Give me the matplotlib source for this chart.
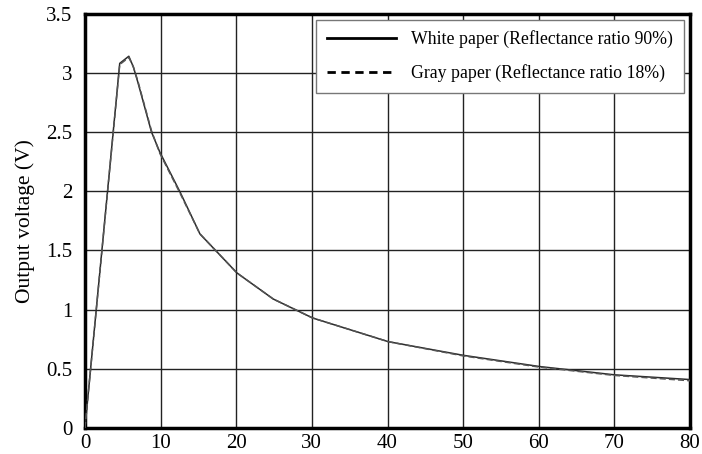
import matplotlib
matplotlib.use("Agg")
import matplotlib.pyplot as plt

# distance (mm) vs output voltage (V)
afstand_wit = [0, 4.6, 5.8, 6.4, 7.0, 8.8, 9.9, 12.6, 15.2, 20.1, 24.9, 30.1, 35.1, 40.1, 50, 60.1, 70, 80]
spanning_wit = [0, 3.08, 3.14, 3.05, 2.92, 2.50, 2.33, 1.99, 1.64, 1.31, 1.09, 0.93, 0.83, 0.73, 0.615, 0.52, 0.45, 0.41]

afstand_grijs = [0, 4.6, 5.8, 6.4, 7.0, 8.8, 9.9, 12.6, 15.2, 20.1, 24.9, 30.1, 35.1, 40.1, 50, 60.1, 70, 80]
spanning_grijs = [0, 3.07, 3.13, 3.05, 2.93, 2.51, 2.32, 1.98, 1.64, 1.31, 1.09, 0.93, 0.83, 0.73, 0.61, 0.515, 0.445, 0.40]

x_ticks = [0, 10, 20, 30, 40, 50, 60, 70, 80]
y_ticks = [0, 0.5, 1, 1.5, 2, 2.5, 3, 3.5]
y_labels = ["0", "0.5", "1", "1.5", "2", "2.5", "3", "3.5"]

plt.rcParams["font.family"] = ["Liberation Serif", "DejaVu Serif"]

fig = plt.figure(figsize=(7.02, 4.54), dpi=100)
ax = fig.add_axes([0.121, 0.057, 0.862, 0.913])

ax.plot(afstand_wit, spanning_wit, color="#2a2a2a", linewidth=1.1, linestyle="-",
        label="White paper (Reflectance ratio 90%)", zorder=3)
ax.plot(afstand_grijs, spanning_grijs, color="#555555", linewidth=1.1, linestyle=(0, (4, 2)),
        label="Gray paper (Reflectance ratio 18%)", zorder=3)

ax.set_xlim(0, 80)
ax.set_ylim(0, 3.5)
ax.set_xticks(x_ticks)
ax.set_yticks(y_ticks)
ax.set_yticklabels(y_labels)
ax.tick_params(length=0, labelsize=15)
ax.tick_params(axis="y", pad=9)
ax.tick_params(axis="x", pad=4)
ax.grid(True, color="#222222", linewidth=1.0)
ax.set_axisbelow(True)
for s in ax.spines.values():
    s.set_linewidth(2.5)
    s.set_color("black")

ax.set_ylabel("Output voltage (V)", fontsize=15.5, labelpad=8)

leg = ax.legend(loc="upper right", fontsize=12.8, handlelength=3.9, handletextpad=0.85,
                borderaxespad=0.35, fancybox=False, framealpha=1, labelspacing=0.9,
                borderpad=0.6)
leg.get_frame().set_edgecolor("#777777")
leg.get_frame().set_linewidth(1.0)
lijnen = leg.get_lines()
lijnen[0].set_color("black")
lijnen[0].set_linewidth(2.0)
lijnen[1].set_color("black")
lijnen[1].set_linewidth(2.0)
lijnen[1].set_linestyle((0, (3, 2)))

fig.savefig("out.png", dpi=100)
